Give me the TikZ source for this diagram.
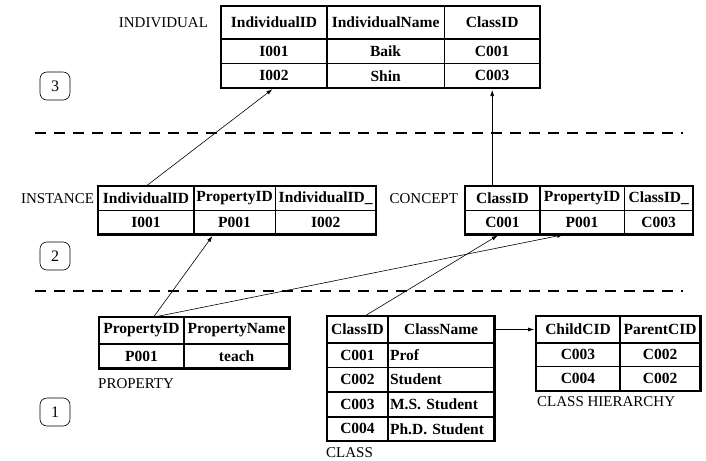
\documentclass[tikz,border=0pt]{standalone}
\usepackage{fontspec}
\setmainfont{Liberation Serif}
\usetikzlibrary{positioning,matrix,arrows.meta}
\tikzset{tbl/.style={matrix of nodes,draw,line width=2.4pt,inner sep=0pt,
    column sep=0pt,row sep=0pt,anchor=north west,
    nodes={draw,line width=0.6pt,inner sep=1.5pt,anchor=center,
      minimum height=24pt,font=\fontsize{15.5}{18}\selectfont\bfseries}},
  tbl name/.style={font=\fontsize{15}{18}\selectfont,inner sep=0pt},
  level box/.style={draw,line width=0.6pt,rounded corners=7pt,minimum width=30pt,
    minimum height=28pt,inner sep=0pt,font=\fontsize{16}{18}\selectfont},
  level line/.style={line width=2.6pt,dash pattern=on 11pt off 8pt},
  link/.style={-{Latex[length=6pt,width=4pt]},line width=0.6pt,shorten >=2pt},
}

\begin{document}
\begin{tikzpicture}[x=1pt,y=-1pt]
	\useasboundingbox (0,0) rectangle (706,460);
	
	% level 3
	\matrix[tbl,
		column 1/.style={nodes={minimum width=105pt}},
		column 2/.style={nodes={minimum width=117pt}},
		column 3/.style={nodes={minimum width=95pt}},
		row 1/.style={nodes={minimum height=32pt}}] (indiv) at (220,5) {
		IndividualID & IndividualName & ClassID \\
		I001 & Baik & C001 \\
		I002 & Shin & C003 \\
	};
	\node[tbl name,left=13pt of indiv-1-1] (indivname) {INDIVIDUAL};
	\node[level box] (lvl3) at (55,86) {3};
	
	% level 2
	\matrix[tbl,nodes={minimum height=23.5pt},
		column 1/.style={nodes={minimum width=95pt}},
		column 2/.style={nodes={minimum width=81pt}},
		column 3/.style={nodes={minimum width=100pt}}] (inst) at (97,185) {
		IndividualID & PropertyID & IndividualID\_ \\
		I001 & P001 & I002 \\
	};
	\node[tbl name,left=4pt of inst-1-1] (instname) {INSTANCE};
	
	\matrix[tbl,nodes={minimum height=23.5pt},
		column 1/.style={nodes={minimum width=74pt}},
		column 2/.style={nodes={minimum width=84pt}},
		column 3/.style={nodes={minimum width=68pt}}] (concept) at (464,185) {
		ClassID & PropertyID & ClassID\_ \\
		C001 & P001 & C003 \\
	};
	\node[tbl name,left=7pt of concept-1-1] (conceptname) {CONCEPT};
	\node[level box] (lvl2) at (55,256) {2};
	
	% level 1
	\matrix[tbl,
		column 1/.style={nodes={minimum width=84pt}},
		column 2/.style={nodes={minimum width=105pt}},
		row 1/.style={nodes={minimum height=26pt}}] (prop) at (98,316) {
		PropertyID & PropertyName \\
		P001 & teach \\
	};
	\node[tbl name,anchor=north west] (propname) at ([yshift=-9pt]prop.south west) {PROPERTY};
	
	\matrix[tbl,
		column 1/.style={nodes={minimum width=60pt}},
		column 2/.style={nodes={minimum width=106pt,text width=102pt,align=left}},
		row 1 column 2/.style={nodes={align=center}},
		row 1/.style={nodes={minimum height=26pt}}] (class) at (326,315) {
		ClassID & ClassName \\
		C001 & Prof \\
		C002 & Student \\
		C003 & M.S. Student \\
		C004 & Ph.D. Student \\
	};
	\node[tbl name,anchor=north west] (classname) at ([yshift=-5pt]class.south west) {CLASS};
	
	\matrix[tbl,
		column 1/.style={nodes={minimum width=83pt}},
		column 2/.style={nodes={minimum width=80pt}},
		row 1/.style={nodes={minimum height=26pt}},
		row 2/.style={nodes={minimum height=23pt}}] (hier) at (535,315) {
		ChildCID & ParentCID \\
		C003 & C002 \\
		C004 & C002 \\
	};
	\node[tbl name,anchor=north west] (hiername) at ([xshift=2pt,yshift=-4pt]hier.south west) {CLASS HIERARCHY};
	\node[level box] (lvl1) at (55,412) {1};
	
	% level borders
	\draw[level line] (35,133) -- (683,133);
	\draw[level line] (35,291) -- (683,291);
	
	% links
	\draw[link] (inst-1-1.north) -- (indiv-3-1.south);
	\draw[link] (concept-1-1.north -| indiv-3-3.south) -- (indiv-3-3.south);
	\draw[link] ([xshift=12pt]prop-1-1.north) -- ([xshift=-21pt]inst-2-2.south);
	\draw[link] ([xshift=12pt]prop-1-1.north) -- ([xshift=-17pt]concept-2-2.south);
	\draw[link] ([xshift=7pt]class-1-1.north) -- ([xshift=-3pt]concept-2-1.south);
	\draw[link] (class-1-2.east) -- (hier-1-1.west);
\end{tikzpicture}
\end{document}
